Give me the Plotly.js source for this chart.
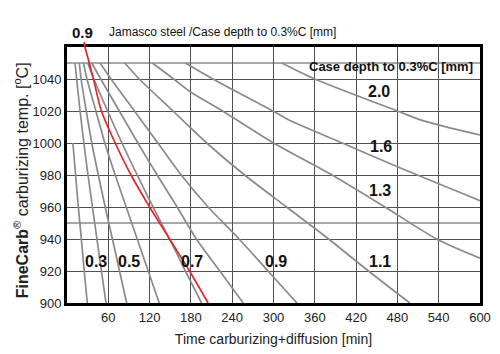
<!DOCTYPE html>
<html>
<head>
<meta charset="utf-8">
<script src="https://cdn.plot.ly/plotly-3.0.1.min.js"></script>
<style>html,body{margin:0;padding:0;background:#fff;}#chart{width:500px;height:354px;}</style>
</head>
<body>
<div id="chart"></div>
<script>
// Time [min] vs carburizing temperature [°C] for each case depth curve
const T_full = [1050, 1040, 1020, 1000, 980, 960, 940, 920, 900];

const d03_T = [1000, 980, 960, 940, 920, 900];
const d03_t = [8.5, 12.5, 16.5, 20.8, 25, 29.5];

const d04_t = [11.6, 14, 19, 24.5, 30.5, 37, 43.5, 50, 56.7];
const d05_t = [17.9, 20.5, 28, 36, 45.5, 55.5, 66, 76.3, 86.7];
const d06_t = [24, 29, 42, 55, 70, 86, 102, 118, 134];
const d07_t = [30, 39, 59, 79.8, 102, 125, 149, 172, 195.5];
const d08_t = [36, 49, 76, 103, 131, 160, 188, 222, 256];
const d09_t = [48, 64, 98, 132, 166, 205, 250, 292, 334];
const d11_t = [84, 105, 154, 203, 258, 319, 380, 438, 498];

const d13_T = [1050, 1040, 1032, 1020, 1000, 980, 960, 940, 928];
const d13_t = [124, 155, 179, 226, 300, 385, 462, 537, 600];

const d16_T = [1050, 1040, 1020, 1014, 1000, 985, 964];
const d16_t = [172, 212, 299, 324, 400, 481, 600];

const d20_T = [1050, 1040, 1020, 1014, 1005];
const d20_t = [312, 360, 480, 517, 600];

// Jamasco steel, 0.9 mm (red)
const jam_T = [1060, 1050, 1040, 1020, 1000, 980, 960, 940, 920, 900];
const jam_t = [26, 32.4, 38.4, 50, 70, 93, 120, 149, 178, 205];

// Tick values / labels
const xTicks = [60, 120, 180, 240, 300, 360, 420, 480, 540, 600];
const yTicks = [900, 920, 940, 960, 980, 1000, 1020, 1040];
const yExtraGrid = [950, 1050];

// Curve labels
const curveLabels = ['0.3', '0.5', '0.7', '0.9', '1.1', '1.3', '1.6', '2.0'];
const labelX = [42, 90, 182, 304, 455, 455, 456, 453];
const labelY = [925.8, 925.8, 925.8, 925.8, 925.8, 970.5, 998, 1032];

const grayCurves = [
  [d03_t, d03_T], [d04_t, T_full], [d05_t, T_full], [d06_t, T_full],
  [d07_t, T_full], [d08_t, T_full], [d09_t, T_full], [d11_t, T_full],
  [d13_t, d13_T], [d16_t, d16_T], [d20_t, d20_T]
];

const FONT = 'Liberation Sans, Arial, sans-serif';
const NARROW = 'Liberation Sans Narrow, Arial Narrow, Liberation Sans, sans-serif';

const traces = grayCurves.map(c => ({
  type: 'scatter', mode: 'lines', x: c[0], y: c[1],
  line: {color: '#8a8a8a', width: 1.7, shape: 'spline', smoothing: 0.8},
  hoverinfo: 'skip', showlegend: false
}));
traces.push({
  type: 'scatter', mode: 'lines', x: jam_t, y: jam_T,
  line: {color: '#e3262d', width: 1.7, shape: 'spline', smoothing: 0.8},
  hoverinfo: 'skip', showlegend: false
});

const annotations = curveLabels.map((s, i) => ({
  x: labelX[i], y: labelY[i], xref: 'x', yref: 'y', text: '<b>' + s + '</b>',
  showarrow: false, font: {family: FONT, size: 16, color: '#111'},
  xanchor: 'center', yanchor: 'middle'
}));
annotations.push({
  x: 0.785, y: 1060, xref: 'paper', yref: 'y', yshift: -19,
  text: '<b>Case depth to 0.3%C [mm]</b>', showarrow: false,
  font: {family: FONT, size: 13, color: '#111'}, xanchor: 'center', yanchor: 'middle'
});
annotations.push({
  x: 0.0375, y: 1, xref: 'paper', yref: 'paper', yshift: 15,
  text: '<b>0.9</b>', showarrow: false,
  font: {family: FONT, size: 15, color: '#111'}, xanchor: 'center', yanchor: 'middle'
});
annotations.push({
  x: 0.096, y: 1, xref: 'paper', yref: 'paper', yshift: 15,
  text: 'Jamasco steel /Case depth to 0.3%C [mm]', showarrow: false,
  font: {family: FONT, size: 12, color: '#111'}, xanchor: 'left', yanchor: 'middle'
});
annotations.push({
  x: -0.111, y: 0.48, xref: 'paper', yref: 'paper', textangle: -90,
  text: '<b>FineCarb</b><sup>®</sup> carburizing temp. [<sup>o</sup>C]', showarrow: false,
  font: {family: FONT, size: 16, color: '#222'}, xanchor: 'center', yanchor: 'middle'
});

const shapes = yExtraGrid.map(v => ({
  type: 'line', xref: 'paper', yref: 'y', x0: 0, x1: 1, y0: v, y1: v, layer: 'below',
  line: {color: '#505050', width: 1}
}));
shapes.push({
  type: 'line', xref: 'x', yref: 'paper', x0: 25, y0: 1.02, x1: 26.2, y1: 1.0,
  line: {color: '#e3262d', width: 1.7}
});

const layout = {
  width: 500, height: 354,
  margin: {l: 67, r: 20, t: 47, b: 51},
  paper_bgcolor: '#fff', plot_bgcolor: '#fff',
  showlegend: false,
  xaxis: {
    range: [0, 600], tickvals: xTicks, ticks: '', showgrid: true,
    gridcolor: '#505050', gridwidth: 1, zeroline: false,
    showline: true, linecolor: '#000', linewidth: 3, mirror: true,
    tickfont: {family: NARROW, size: 13, color: '#222'},
    title: {text: 'Time carburizing+diffusion [min]', font: {family: FONT, size: 14, color: '#222'}, standoff: 11}
  },
  yaxis: {
    range: [900, 1060], tickvals: yTicks, ticks: '', showgrid: true,
    gridcolor: '#505050', gridwidth: 1, zeroline: false,
    showline: true, linecolor: '#000', linewidth: 3, mirror: true,
    tickfont: {family: NARROW, size: 13, color: '#222'}
  },
  shapes: shapes,
  annotations: annotations
};

Plotly.newPlot('chart', traces, layout, {staticPlot: true, displayModeBar: false});
</script>
</body>
</html>
